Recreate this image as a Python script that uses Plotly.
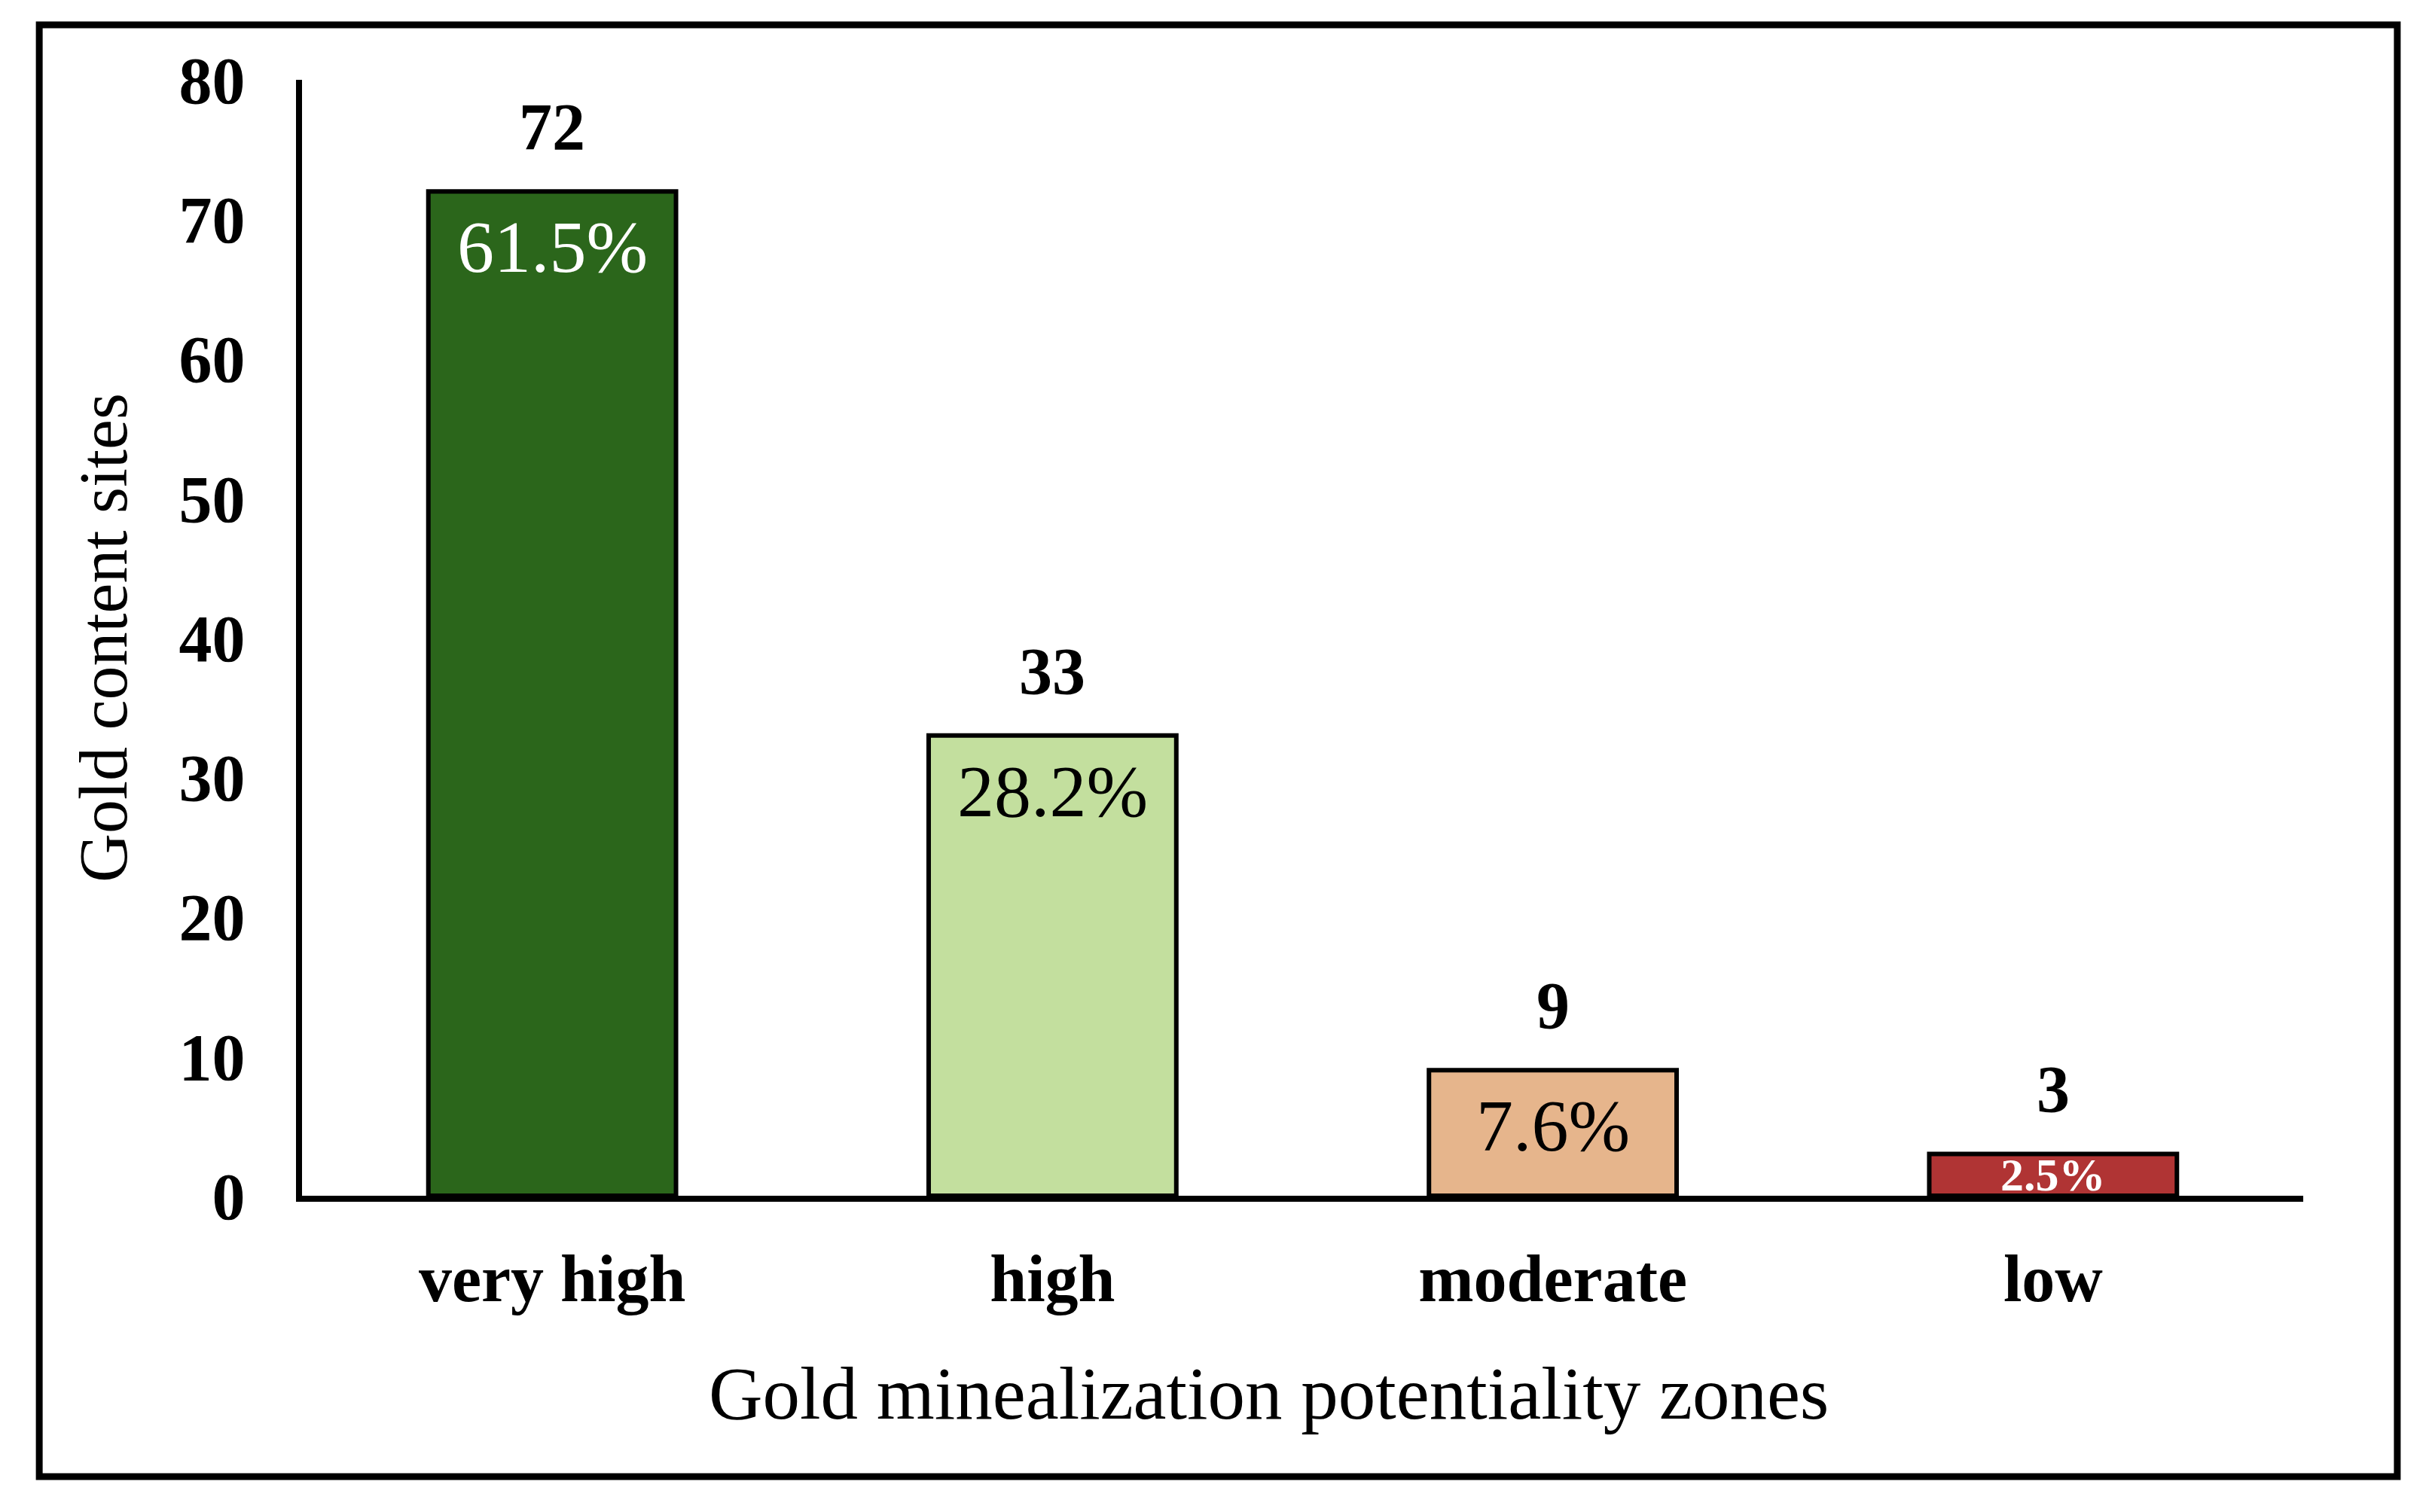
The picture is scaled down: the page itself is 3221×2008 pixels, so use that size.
import plotly.graph_objects as go

# ---- data ----
categories = ["very high", "high", "moderate", "low"]
counts = [72, 33, 9, 3]
percent_labels = ["61.5%", "28.2%", "7.6%", "2.5%"]
bar_colors = ["#2B661B", "#C3DF9E", "#E6B58C", "#B03434"]
pct_colors = ["white", "black", "black", "white"]
y_ticks = [0, 10, 20, 30, 40, 50, 60, 70, 80]

FONT = "Liberation Serif, Times New Roman, serif"

fig = go.Figure()
fig.add_trace(go.Bar(
    x=categories,
    y=counts,
    marker=dict(color=bar_colors, line=dict(color="black", width=6)),
    hoverinfo="x+y",
    showlegend=False,
))

annotations = []
# count labels above bars
for c, v in zip(categories, counts):
    annotations.append(dict(
        x=c, y=v, xref="x", yref="y", text=f"<b>{v}</b>", showarrow=False,
        yanchor="bottom", yshift=35,
        font=dict(family=FONT, size=88, color="black"),
    ))
# percentage labels inside bars
for c, v, p, col in zip(categories, counts, percent_labels, pct_colors):
    if v >= 5:
        annotations.append(dict(
            x=c, y=v, xref="x", yref="y", text=p, showarrow=False,
            yanchor="top", yshift=-18,
            font=dict(family=FONT, size=98, color=col),
        ))
    else:
        annotations.append(dict(
            x=c, y=v / 2, xref="x", yref="y", text=f"<b>{p}</b>", showarrow=False,
            yanchor="middle", yshift=0,
            font=dict(family=FONT, size=62, color=col),
        ))
# axis titles
annotations.append(dict(
    x=0.483, y=-0.177, xref="paper", yref="paper", text="Gold minealization potentiality zones",
    showarrow=False, xanchor="center", yanchor="middle",
    font=dict(family=FONT, size=99, color="black"),
))
annotations.append(dict(
    x=-0.0994, y=0.5, xref="paper", yref="paper", text="Gold content sites",
    showarrow=False, textangle=-90, xanchor="center", yanchor="middle",
    font=dict(family=FONT, size=90, color="black"),
))

fig.update_layout(
    width=3221, height=2008,
    margin=dict(l=401, r=163, t=106, b=420, pad=0),
    paper_bgcolor="white", plot_bgcolor="white",
    bargap=0.505,
    annotations=annotations,
    font=dict(family=FONT, color="black"),
    shapes=[dict(
        type="rect", xref="paper", yref="paper",
        x0=-0.1313, x1=1.047, y0=-0.2517, y1=1.0493,
        line=dict(color="black", width=9), fillcolor="rgba(0,0,0,0)", layer="above",
    )],
)
fig.update_xaxes(
    range=[-0.5, 3.5], showline=True, linecolor="black", linewidth=8,
    showgrid=False, zeroline=False, ticks="",
    tickfont=dict(family=FONT, size=88, color="black", weight="bold"),
    ticklabelstandoff=26,
)
fig.update_yaxes(
    range=[0, 80], tickvals=y_ticks, showline=True, linecolor="black", linewidth=8,
    showgrid=False, zeroline=False, ticks="",
    tickfont=dict(family=FONT, size=88, color="black", weight="bold"),
    ticklabelstandoff=50,
)

fig.write_html(
    "out.html",
    config={"displayModeBar": False},
    post_script="document.body.style.margin='0';document.body.style.overflow='hidden';",
)
